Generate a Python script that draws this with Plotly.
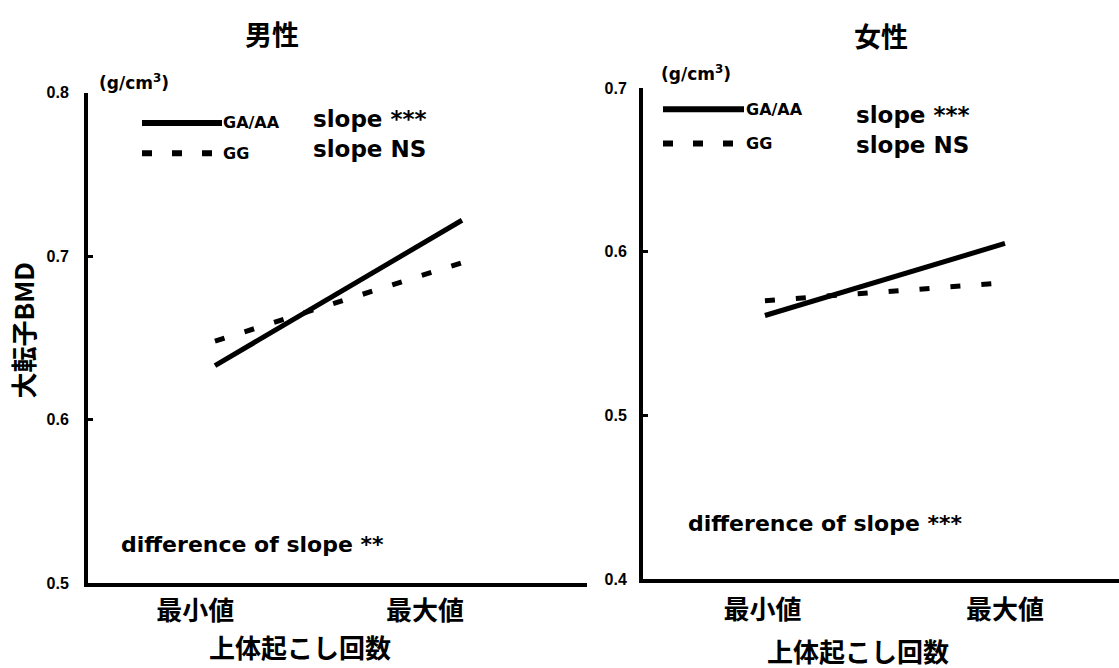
import plotly.graph_objects as go

W, H = 1119, 668

# ---------------- data ----------------
categories = ["最小値", "最大値"]
x_pts = [0, 1]                      # 最小値 -> 最大値 (line end points)
male_gaaa = [0.633, 0.722]
male_gg = [0.648, 0.696]
female_gaaa = [0.561, 0.605]
female_gg = [0.570, 0.581]
male_ticks = [0.5, 0.6, 0.7, 0.8]
female_ticks = [0.4, 0.5, 0.6, 0.7]
male_cat_pos = [-0.08, 0.85]
female_cat_pos = [-0.01, 1.0]
series_names = ["GA/AA", "GG"]
male_slope_txt = ["slope ***", "slope NS"]
female_slope_txt = ["slope ***", "slope NS"]
male_diff_txt = "difference of slope **"
female_diff_txt = "difference of slope ***"

CJK = "Noto Sans CJK JP"
LAT = "DejaVu Sans"
NUM = "Liberation Sans"


def px(x):
    return x / W


def py(y):
    return 1 - y / H


fig = go.Figure()

solid = dict(color="black", width=5)
dashed = dict(color="black", width=5, dash="10px,21px")

fig.add_trace(go.Scatter(x=x_pts, y=male_gaaa, mode="lines", line=solid,
                         xaxis="x", yaxis="y", showlegend=False, hoverinfo="skip"))
fig.add_trace(go.Scatter(x=x_pts, y=male_gg, mode="lines", line=dashed,
                         xaxis="x", yaxis="y", showlegend=False, hoverinfo="skip"))
fig.add_trace(go.Scatter(x=x_pts, y=female_gaaa, mode="lines", line=solid,
                         xaxis="x2", yaxis="y2", showlegend=False, hoverinfo="skip"))
fig.add_trace(go.Scatter(x=x_pts, y=female_gg, mode="lines", line=dashed,
                         xaxis="x2", yaxis="y2", showlegend=False, hoverinfo="skip"))

common_x = dict(showline=True, linewidth=4, linecolor="black", showgrid=False,
                zeroline=False, ticks="", ticktext=categories,
                tickfont=dict(family=CJK, size=26, color="black", weight="bold"),
                fixedrange=True)
common_y = dict(showline=True, linewidth=4, linecolor="black", showgrid=False,
                zeroline=False, ticks="inside", ticklen=5, tickwidth=3,
                tickcolor="black",
                tickfont=dict(family=NUM, size=16, color="black", weight="bold"),
                fixedrange=True)

fig.update_layout(
    width=W, height=H,
    margin=dict(l=0, r=0, t=0, b=0),
    paper_bgcolor="white", plot_bgcolor="white",
    showlegend=False,
    xaxis=dict(domain=[px(88), px(587)], range=[-0.514, 1.506],
               tickvals=male_cat_pos, anchor="y", ticklabelstandoff=2, **common_x),
    yaxis=dict(domain=[py(590), py(87)], range=[0.5, 0.8],
               tickvals=male_ticks, ticktext=[f"{v:.1f}" for v in male_ticks],
               ticklabelstandoff=12, anchor="x", **common_y),
    xaxis2=dict(domain=[px(643), 1.0], range=[-0.508, 1.475],
                tickvals=female_cat_pos, anchor="y2", ticklabelstandoff=5, **common_x),
    yaxis2=dict(domain=[py(586), py(82)], range=[0.4, 0.7],
                tickvals=female_ticks, ticktext=[f"{v:.1f}" for v in female_ticks],
                ticklabelstandoff=9, anchor="x2", **common_y),
)

ann = []


def add_text(x, y, text, size, family=LAT, xanchor="left", bold=True, angle=0):
    ann.append(dict(x=px(x), y=py(y), xref="paper", yref="paper", text=text,
                    showarrow=False, xanchor=xanchor, yanchor="middle",
                    textangle=angle,
                    font=dict(family=family, size=size, color="black",
                              weight="bold" if bold else "normal")))


# titles
add_text(272, 26, "男性", 27, CJK, "center")
add_text(881, 28, "女性", 27, CJK, "center")
# axis titles
add_text(23, 331, "大転子BMD", 26, CJK, "center", angle=-90)
add_text(300, 655, "上体起こし回数", 26, CJK, "center")
add_text(858, 659, "上体起こし回数", 26, CJK, "center")
# units
add_text(97, 76, "(g/cm<sup>3</sup>)", 17)
add_text(659, 67, "(g/cm<sup>3</sup>)", 17)
# legend labels
add_text(221, 118, series_names[0], 16)
add_text(221, 149, series_names[1], 16)
add_text(744, 104, series_names[0], 16)
add_text(744, 139, series_names[1], 16)
# slope texts
add_text(311, 114, male_slope_txt[0], 23)
add_text(311, 145, male_slope_txt[1], 23)
add_text(854, 110, female_slope_txt[0], 23)
add_text(854, 141, female_slope_txt[1], 23)
# difference texts
add_text(119, 551, male_diff_txt, 22)
add_text(686, 529, female_diff_txt, 22)

shapes = [
    dict(type="line", xref="paper", yref="paper", x0=px(142), x1=px(222),
         y0=py(118), y1=py(118), line=dict(color="black", width=6)),
    dict(type="line", xref="paper", yref="paper", x0=px(142), x1=px(214),
         y0=py(149), y1=py(149), line=dict(color="black", width=6, dash="10px,20px")),
    dict(type="line", xref="paper", yref="paper", x0=px(663), x1=px(744),
         y0=py(104), y1=py(104), line=dict(color="black", width=6)),
    dict(type="line", xref="paper", yref="paper", x0=px(663), x1=px(734),
         y0=py(139), y1=py(139), line=dict(color="black", width=6, dash="10px,20px")),
]

fig.update_layout(annotations=ann, shapes=shapes)

fig.write_html("out.html")
